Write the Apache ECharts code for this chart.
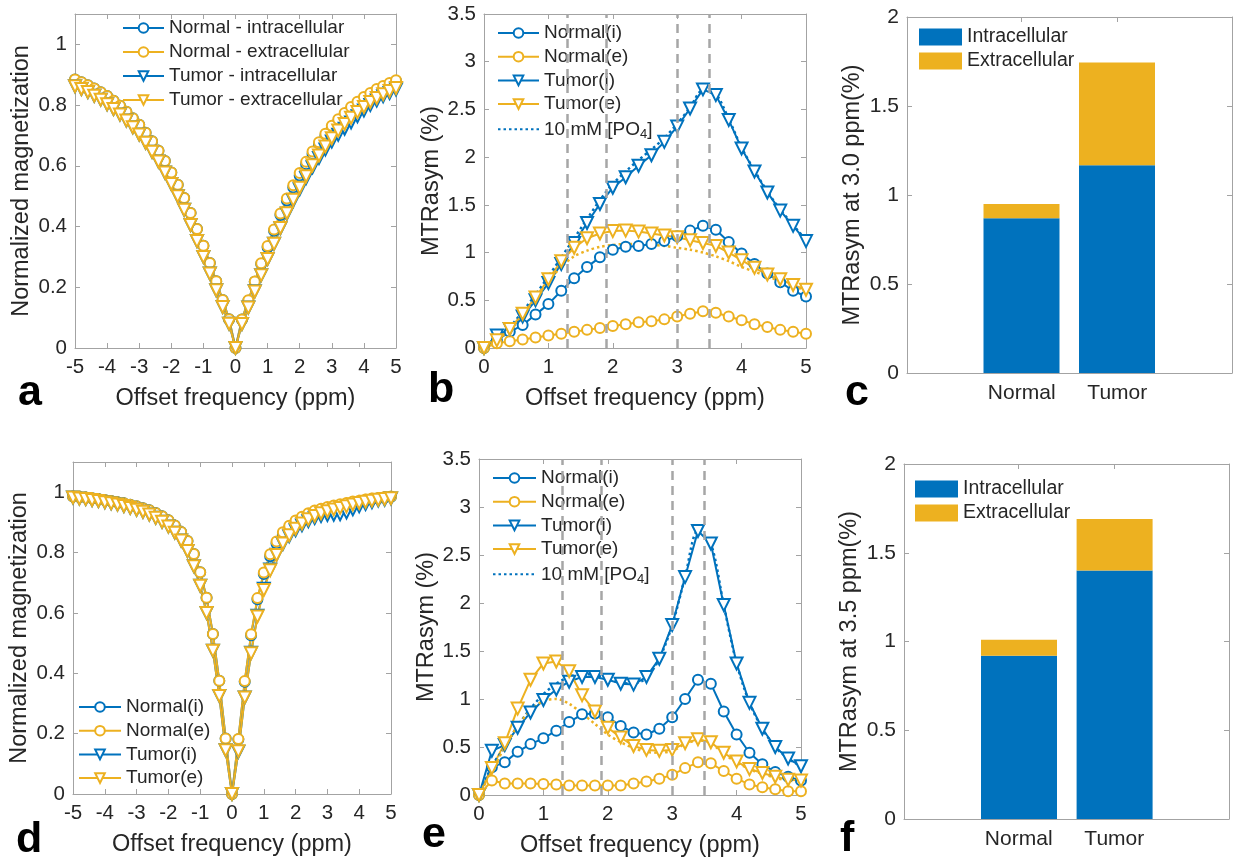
<!DOCTYPE html>
<html>
<head>
<meta charset="utf-8">
<title>Z-spectra and MTRasym</title>
<script src="https://cdn.jsdelivr.net/npm/echarts@6/dist/echarts.min.js"></script>
<style>
  html, body { margin: 0; padding: 0; background: #fff; }
  #chart { width: 1235px; height: 857px; }
</style>
</head>
<body>
<div id="chart"></div>
<script>
// offsets (ppm)
var ZX = [-5, -4.8, -4.6, -4.4, -4.2, -4, -3.8, -3.6, -3.4, -3.2, -3, -2.8, -2.6, -2.4, -2.2, -2, -1.8, -1.6, -1.4, -1.2, -1, -0.8, -0.6, -0.4, -0.2,
          0, 0.2, 0.4, 0.6, 0.8, 1, 1.2, 1.4, 1.6, 1.8, 2, 2.2, 2.4, 2.6, 2.8, 3, 3.2, 3.4, 3.6, 3.8, 4, 4.2, 4.4, 4.6, 4.8, 5];
var MX = [0, 0.2, 0.4, 0.6, 0.8, 1, 1.2, 1.4, 1.6, 1.8, 2, 2.2, 2.4, 2.6, 2.8, 3, 3.2, 3.4, 3.6, 3.8, 4, 4.2, 4.4, 4.6, 4.8, 5];
var GUIDES = [1.3, 1.9, 3.0, 3.5];

// panel a: Z-spectra (top row)
var ZA_NORMAL_I = [0.884, 0.875, 0.865, 0.855, 0.842, 0.83, 0.814, 0.798, 0.778, 0.757, 0.735, 0.709, 0.681, 0.65, 0.616, 0.578, 0.538, 0.494, 0.445, 0.392, 0.337, 0.28, 0.22, 0.158, 0.095,
                   0, 0.094, 0.156, 0.218, 0.277, 0.332, 0.386, 0.438, 0.486, 0.529, 0.568, 0.605, 0.639, 0.67, 0.698, 0.723, 0.745, 0.765, 0.786, 0.803, 0.82, 0.833, 0.847, 0.858, 0.869, 0.879];
var ZA_NORMAL_E = [0.884, 0.875, 0.865, 0.855, 0.842, 0.83, 0.814, 0.798, 0.778, 0.757, 0.735, 0.709, 0.681, 0.65, 0.616, 0.578, 0.538, 0.494, 0.445, 0.392, 0.337, 0.28, 0.22, 0.158, 0.095,
                   0, 0.094, 0.157, 0.219, 0.279, 0.336, 0.39, 0.443, 0.492, 0.536, 0.576, 0.613, 0.647, 0.678, 0.706, 0.732, 0.753, 0.774, 0.794, 0.811, 0.827, 0.84, 0.853, 0.863, 0.873, 0.882];
var ZA_TUMOR_I = [0.862, 0.853, 0.843, 0.831, 0.818, 0.803, 0.787, 0.769, 0.749, 0.727, 0.703, 0.676, 0.646, 0.614, 0.578, 0.54, 0.5, 0.455, 0.405, 0.352, 0.3, 0.245, 0.19, 0.135, 0.08,
                  0, 0.079, 0.133, 0.187, 0.24, 0.293, 0.343, 0.394, 0.442, 0.485, 0.523, 0.56, 0.595, 0.626, 0.654, 0.68, 0.702, 0.722, 0.743, 0.763, 0.782, 0.8, 0.815, 0.829, 0.84, 0.851];
var ZA_TUMOR_E = [0.862, 0.853, 0.843, 0.831, 0.818, 0.803, 0.787, 0.769, 0.749, 0.727, 0.703, 0.676, 0.646, 0.614, 0.578, 0.54, 0.5, 0.455, 0.405, 0.352, 0.3, 0.245, 0.19, 0.135, 0.08,
                  0, 0.079, 0.133, 0.186, 0.24, 0.293, 0.343, 0.395, 0.444, 0.488, 0.528, 0.566, 0.602, 0.634, 0.664, 0.691, 0.716, 0.738, 0.758, 0.777, 0.794, 0.81, 0.823, 0.836, 0.846, 0.856];

// panel b: MTRasym (%)
var MB_NORMAL_I = [0, 0.08, 0.17, 0.24, 0.35, 0.46, 0.6, 0.73, 0.85, 0.95, 1.03, 1.06, 1.07, 1.09, 1.12, 1.17, 1.23, 1.28, 1.24, 1.11, 0.99, 0.88, 0.78, 0.69, 0.6, 0.54];
var MB_NORMAL_E = [0, 0.05, 0.07, 0.09, 0.11, 0.13, 0.15, 0.17, 0.19, 0.21, 0.23, 0.25, 0.27, 0.28, 0.3, 0.33, 0.36, 0.385, 0.37, 0.33, 0.29, 0.25, 0.22, 0.19, 0.17, 0.15];
var MB_TUMOR_I = [0, 0.13, 0.2, 0.33, 0.5, 0.68, 0.88, 1.1, 1.31, 1.51, 1.68, 1.79, 1.91, 2.02, 2.16, 2.32, 2.51, 2.71, 2.65, 2.39, 2.09, 1.85, 1.63, 1.44, 1.28, 1.12];
var MB_TUMOR_E = [0, 0.08, 0.2, 0.36, 0.53, 0.72, 0.91, 1.05, 1.15, 1.2, 1.225, 1.23, 1.22, 1.2, 1.18, 1.16, 1.13, 1.1, 1.07, 1.0, 0.92, 0.84, 0.77, 0.72, 0.66, 0.61];
var MB_PO4_I = [0, 0.1, 0.22, 0.38, 0.56, 0.75, 0.95, 1.15, 1.35, 1.55, 1.72, 1.85, 1.97, 2.08, 2.2, 2.35, 2.52, 2.7, 2.66, 2.4, 2.1, 1.86, 1.64, 1.45, 1.29, 1.13];
var MB_PO4_E = [0, 0.08, 0.2, 0.35, 0.52, 0.7, 0.85, 0.96, 1.02, 1.06, 1.08, 1.09, 1.09, 1.08, 1.07, 1.05, 1.03, 1.0, 0.96, 0.91, 0.85, 0.8, 0.75, 0.7, 0.65, 0.6];

// panel c / f: bars
var BAR_CATS = ['Normal', 'Tumor'];
var BAR_POS = [1, 2];
var C_INTRA = [0.87, 1.167];
var C_EXTRA = [0.08, 0.578];
var F_INTRA = [0.92, 1.40];
var F_EXTRA = [0.09, 0.29];

// panel d: Z-spectra (bottom row)
var ZD_NORMAL_I = [0.986, 0.984, 0.982, 0.98, 0.977, 0.974, 0.971, 0.967, 0.963, 0.958, 0.953, 0.947, 0.94, 0.931, 0.92, 0.907, 0.89, 0.868, 0.838, 0.795, 0.735, 0.65, 0.53, 0.375, 0.184,
                   0, 0.181, 0.372, 0.526, 0.645, 0.729, 0.788, 0.83, 0.86, 0.882, 0.899, 0.913, 0.925, 0.934, 0.94, 0.945, 0.948, 0.951, 0.955, 0.962, 0.968, 0.973, 0.977, 0.98, 0.982, 0.985];
var ZD_NORMAL_E = [0.986, 0.984, 0.982, 0.98, 0.977, 0.974, 0.971, 0.967, 0.963, 0.958, 0.953, 0.947, 0.94, 0.931, 0.92, 0.907, 0.89, 0.868, 0.838, 0.795, 0.735, 0.65, 0.53, 0.375, 0.184,
                   0, 0.182, 0.374, 0.529, 0.649, 0.734, 0.794, 0.837, 0.867, 0.889, 0.906, 0.919, 0.93, 0.939, 0.945, 0.951, 0.956, 0.96, 0.964, 0.969, 0.972, 0.976, 0.979, 0.981, 0.984, 0.986];
var ZD_TUMOR_I = [0.982, 0.979, 0.977, 0.974, 0.971, 0.967, 0.963, 0.959, 0.954, 0.948, 0.942, 0.935, 0.926, 0.915, 0.902, 0.886, 0.866, 0.84, 0.805, 0.755, 0.69, 0.6, 0.475, 0.325, 0.145,
                  0, 0.14, 0.32, 0.468, 0.591, 0.68, 0.744, 0.793, 0.828, 0.854, 0.874, 0.89, 0.904, 0.914, 0.921, 0.924, 0.925, 0.927, 0.933, 0.943, 0.953, 0.961, 0.967, 0.972, 0.975, 0.979];
var ZD_TUMOR_E = [0.982, 0.979, 0.977, 0.974, 0.971, 0.967, 0.963, 0.959, 0.954, 0.948, 0.942, 0.935, 0.926, 0.915, 0.902, 0.886, 0.866, 0.84, 0.805, 0.755, 0.69, 0.6, 0.475, 0.325, 0.145,
                  0, 0.142, 0.32, 0.466, 0.588, 0.676, 0.741, 0.792, 0.83, 0.857, 0.879, 0.896, 0.91, 0.921, 0.93, 0.937, 0.943, 0.948, 0.953, 0.959, 0.964, 0.968, 0.972, 0.975, 0.977, 0.98];

// panel e: MTRasym (%)
var ME_NORMAL_I = [0, 0.29, 0.34, 0.45, 0.53, 0.59, 0.67, 0.76, 0.84, 0.85, 0.81, 0.72, 0.65, 0.63, 0.69, 0.81, 1.0, 1.2, 1.16, 0.87, 0.63, 0.44, 0.32, 0.24, 0.19, 0.15];
var ME_NORMAL_E = [0, 0.15, 0.12, 0.12, 0.12, 0.115, 0.11, 0.1, 0.1, 0.1, 0.1, 0.1, 0.12, 0.14, 0.17, 0.21, 0.28, 0.34, 0.33, 0.25, 0.17, 0.11, 0.08, 0.06, 0.04, 0.04];
var ME_TUMOR_I = [0, 0.46, 0.52, 0.7, 0.86, 0.99, 1.1, 1.18, 1.23, 1.23, 1.2, 1.16, 1.15, 1.23, 1.42, 1.77, 2.27, 2.75, 2.62, 1.98, 1.37, 0.96, 0.69, 0.5, 0.38, 0.3];
var ME_TUMOR_E = [0, 0.28, 0.54, 0.9, 1.2, 1.37, 1.39, 1.29, 1.04, 0.87, 0.7, 0.6, 0.51, 0.47, 0.46, 0.47, 0.54, 0.58, 0.55, 0.44, 0.35, 0.27, 0.23, 0.19, 0.16, 0.15];
var ME_PO4_I = [0, 0.3, 0.5, 0.72, 0.9, 1.05, 1.16, 1.23, 1.26, 1.25, 1.21, 1.17, 1.16, 1.22, 1.42, 1.77, 2.27, 2.75, 2.62, 1.98, 1.37, 0.96, 0.69, 0.5, 0.38, 0.3];
var ME_PO4_E = [0, 0.25, 0.5, 0.72, 0.88, 0.98, 1.0, 0.95, 0.85, 0.74, 0.63, 0.55, 0.49, 0.45, 0.44, 0.46, 0.53, 0.57, 0.54, 0.43, 0.34, 0.27, 0.22, 0.18, 0.15, 0.14];

var NAMES_A = ['Normal - intracellular', 'Normal - extracellular', 'Tumor - intracellular', 'Tumor - extracellular'];
var NAMES_S = ['Normal(i)', 'Normal(e)', 'Tumor(i)', 'Tumor(e)'];
var PO4 = '10 mM [PO4]';
var BAR_NAMES = ['Intracellular', 'Extracellular'];

(function () {
  var BLUE = '#0072BD', YELLOW = '#EDB120';
  var TEXT = '#262626', BOX = '#a3a3a3';
  var FONT = '"Liberation Sans", Arial, Helvetica, sans-serif';

  var grids = [], xAxes = [], yAxes = [], series = [], legends = [];

  function axis(gi, c, pos, main) {
    var a = {
      gridIndex: gi, type: 'value', position: pos,
      min: c.min, max: c.max,
      axisLine: { show: true, onZero: false, lineStyle: { color: BOX, width: 1 } },
      axisTick: { show: true, inside: true, length: 5, lineStyle: { color: BOX, width: 1 } },
      axisLabel: { show: main, color: TEXT, fontSize: c.fontSize || 20.5, fontFamily: FONT, margin: c.margin },
      splitLine: { show: false }
    };
    if (c.interval != null) a.interval = c.interval;
    if (c.ticks) { a.axisTick.customValues = c.ticks; a.axisLabel.customValues = c.ticks; }
    if (c.formatter) a.axisLabel.formatter = c.formatter;
    if (c.hideMax) a.axisLabel.showMaxLabel = false;
    if (main && c.name) {
      a.name = c.name;
      a.nameLocation = 'middle';
      a.nameGap = c.nameGap;
      a.nameTextStyle = { color: TEXT, fontSize: c.nameSize || 23.5, fontFamily: FONT };
      if (pos === 'left') a.nameRotate = 90;
    }
    return a;
  }

  function panel(box, xc, yc) {
    var gi = grids.length;
    grids.push({ left: box[0], top: box[1], width: box[2], height: box[3], containLabel: false, outerBoundsMode: 'none' });
    var xi = xAxes.length, yi = yAxes.length;
    xAxes.push(axis(gi, xc, 'bottom', true), axis(gi, xc, 'top', false));
    yAxes.push(axis(gi, yc, 'left', true), axis(gi, yc, 'right', false));
    return { x: xi, y: yi };
  }

  // hidden category grid that carries the stacked bars inside a framed panel
  function barGrid(box, ymax) {
    var gi = grids.length;
    grids.push({ left: box[0], top: box[1], width: box[2], height: box[3], containLabel: false, outerBoundsMode: 'none' });
    var xi = xAxes.length, yi = yAxes.length;
    xAxes.push({ gridIndex: gi, type: 'category', data: BAR_CATS, show: false });
    yAxes.push({ gridIndex: gi, type: 'value', min: 0, max: ymax, show: false });
    return { x: xi, y: yi };
  }

  function pairs(xs, ys) { return xs.map(function (x, i) { return [x, ys[i]]; }); }

  function curve(p, name, xs, ys, color, kind) {
    var s = {
      name: name, type: 'line', xAxisIndex: p.x, yAxisIndex: p.y,
      data: pairs(xs, ys), animation: false,
      lineStyle: { color: color, width: 2 },
      itemStyle: { color: color, borderWidth: 2 }
    };
    if (kind === 'circle') { s.symbol = 'emptyCircle'; s.symbolSize = 10; }
    else if (kind === 'tri') { s.symbol = 'emptyTriangle'; s.symbolSize = 12; s.symbolRotate = 180; }
    else { s.showSymbol = false; s.symbol = 'none'; s.smooth = 0.3; s.lineStyle.type = [2.5, 3]; s.lineStyle.width = 2.5; }
    series.push(s);
  }

  function bars(p, stack, intra, extra) {
    series.push({ name: BAR_NAMES[0], type: 'bar', stack: stack, xAxisIndex: p.x, yAxisIndex: p.y,
      data: intra, barWidth: 76, itemStyle: { color: BLUE }, animation: false });
    series.push({ name: BAR_NAMES[1], type: 'bar', stack: stack, xAxisIndex: p.x, yAxisIndex: p.y,
      data: extra, barWidth: 76, itemStyle: { color: YELLOW }, animation: false });
  }

  function guides(p) {
    series.push({
      name: 'guides', type: 'line', xAxisIndex: p.x, yAxisIndex: p.y, data: [], animation: false,
      markLine: {
        silent: true, symbol: 'none', animation: false,
        label: { show: false },
        lineStyle: { color: '#a6a6a6', width: 2.5, type: [9, 6] },
        data: GUIDES.map(function (v) { return { xAxis: v }; })
      }
    });
  }

  function lineLegend(left, top, names, iw, gap) {
    legends.push({
      orient: 'vertical', left: left, top: top, padding: 0,
      data: names.map(function (n) { return n === PO4 ? { name: n, itemStyle: { opacity: 0 } } : n; }),
      itemWidth: iw, itemHeight: 12, itemGap: gap, selectedMode: false,
      textStyle: {
        color: TEXT, fontSize: 19, fontFamily: FONT, lineHeight: 20,
        rich: { sub: { fontSize: 13, lineHeight: 13, padding: [10, 0, 0, 0], color: TEXT, fontFamily: FONT } }
      },
      formatter: function (n) { return n === PO4 ? '10 mM [PO{sub|4}]' : n; }
    });
  }

  function barLegend(left, top) {
    legends.push({
      orient: 'vertical', left: left, top: top, padding: 0, data: BAR_NAMES, icon: 'rect',
      itemWidth: 43, itemHeight: 17, itemGap: 4, selectedMode: false,
      textStyle: { color: TEXT, fontSize: 19.5, fontFamily: FONT, lineHeight: 20 }
    });
  }

  var zX = { min: -5, max: 5, interval: 1, margin: 9, name: 'Offset frequency (ppm)', nameGap: 39 };
  var zY = { min: 0, max: 1.1, interval: 0.2, margin: 8, hideMax: true, name: 'Normalized magnetization', nameGap: 41 };
  var mX = { min: 0, max: 5, interval: 1, margin: 9, name: 'Offset frequency (ppm)', nameGap: 39 };
  var mY = { min: 0, max: 3.5, interval: 0.5, margin: 8, name: 'MTRasym (%)', nameGap: 40 };
  var bX = { min: -0.2, max: 3.2, ticks: BAR_POS, margin: 10, fontSize: 21,
             formatter: function (v) { return BAR_CATS[BAR_POS.indexOf(v)] || ''; } };

  // a
  var pa = panel([75, 14, 321, 334], zX, zY);
  curve(pa, NAMES_A[0], ZX, ZA_NORMAL_I, BLUE, 'circle');
  curve(pa, NAMES_A[1], ZX, ZA_NORMAL_E, YELLOW, 'circle');
  curve(pa, NAMES_A[2], ZX, ZA_TUMOR_I, BLUE, 'tri');
  curve(pa, NAMES_A[3], ZX, ZA_TUMOR_E, YELLOW, 'tri');
  lineLegend(122, 18, NAMES_A, 41, 4);

  // b
  var pb = panel([484, 14, 322, 334], mX, mY);
  guides(pb);
  curve(pb, NAMES_S[0], MX, MB_NORMAL_I, BLUE, 'circle');
  curve(pb, NAMES_S[1], MX, MB_NORMAL_E, YELLOW, 'circle');
  curve(pb, NAMES_S[2], MX, MB_TUMOR_I, BLUE, 'tri');
  curve(pb, NAMES_S[3], MX, MB_TUMOR_E, YELLOW, 'tri');
  curve(pb, PO4, MX, MB_PO4_I, BLUE, 'dot');
  curve(pb, PO4 + ' (e)', MX, MB_PO4_E, YELLOW, 'dot');
  lineLegend(497, 23, NAMES_S.concat([PO4]), 41, 3.7);

  // c (frame in value coordinates, bars on a matching category grid)
  panel([907, 17, 325, 356], bX,
    { min: 0, max: 2, interval: 0.5, margin: 8, fontSize: 21, name: 'MTRasym at 3.0 ppm(%)', nameGap: 42 });
  bars(barGrid([973.75, 17, 191, 356], 2), 'c', C_INTRA, C_EXTRA);
  barLegend(919, 27);

  // d
  var pd = panel([73, 462, 318, 332], zX, zY);
  curve(pd, NAMES_S[0], ZX, ZD_NORMAL_I, BLUE, 'circle');
  curve(pd, NAMES_S[1], ZX, ZD_NORMAL_E, YELLOW, 'circle');
  curve(pd, NAMES_S[2], ZX, ZD_TUMOR_I, BLUE, 'tri');
  curve(pd, NAMES_S[3], ZX, ZD_TUMOR_E, YELLOW, 'tri');
  lineLegend(78, 697, NAMES_S, 42, 3.7);

  // e
  var pe = panel([479, 459, 322, 336], mX, mY);
  guides(pe);
  curve(pe, NAMES_S[0], MX, ME_NORMAL_I, BLUE, 'circle');
  curve(pe, NAMES_S[1], MX, ME_NORMAL_E, YELLOW, 'circle');
  curve(pe, NAMES_S[2], MX, ME_TUMOR_I, BLUE, 'tri');
  curve(pe, NAMES_S[3], MX, ME_TUMOR_E, YELLOW, 'tri');
  curve(pe, PO4, MX, ME_PO4_I, BLUE, 'dot');
  curve(pe, PO4 + ' (e)', MX, ME_PO4_E, YELLOW, 'dot');
  lineLegend(492, 468, NAMES_S.concat([PO4]), 43, 3.7);

  // f
  panel([904, 464, 325, 355], bX,
    { min: 0, max: 2, interval: 0.5, margin: 8, fontSize: 21, name: 'MTRasym at 3.5 ppm(%)', nameGap: 42 });
  bars(barGrid([971.2, 464, 191.2, 355], 2), 'f', F_INTRA, F_EXTRA);
  barLegend(915, 479);

  // panel letters
  var letters = [['a', 18, 415], ['b', 428, 412], ['c', 845, 415], ['d', 16, 862], ['e', 422, 857], ['f', 840, 861]];
  var graphic = letters.map(function (l) {
    return { type: 'text', x: l[1], y: l[2], silent: true,
      style: { text: l[0], fill: '#000', fontSize: 43, fontWeight: 'bold', fontFamily: FONT, align: 'left', verticalAlign: 'bottom' } };
  });

  var chart = echarts.init(document.getElementById('chart'), null, { renderer: 'canvas' });
  chart.setOption({
    backgroundColor: '#ffffff',
    animation: false,
    textStyle: { fontFamily: FONT },
    grid: grids, xAxis: xAxes, yAxis: yAxes,
    legend: legends, series: series, graphic: graphic
  });
  window.addEventListener('resize', function () { chart.resize(); });
})();
</script>
</body>
</html>
